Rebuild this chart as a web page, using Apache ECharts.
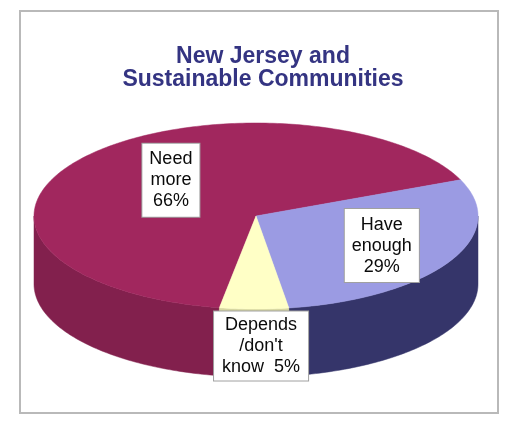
<!DOCTYPE html>
<html>
<head>
<meta charset="utf-8">
<script src="https://cdn.jsdelivr.net/npm/echarts@6/dist/echarts.min.js"></script>
<style>
html,body{margin:0;padding:0;background:#fff;}
#chart{width:514px;height:424px;}
</style>
</head>
<body>
<div id="chart"></div>
<script>
const titleLines = ["New Jersey and", "Sustainable Communities"];
const categories = ["Need more", "Have enough", "Depends /don't know"];
const values = [66, 29, 5];
const labelTexts = ["Need\nmore\n66%", "Have\nenough\n29%", "Depends\n/don't\nknow  5%"];

const topColors = ['#a1275e', '#9b9be3', '#ffffc6'];
const sideColors = ['#82204d', '#35356a', '#d6d6a0'];
const labelR = [0.5, 0.65, 1.0];
const labelDx = [2, 0, 7];
const labelDy = [-7, 0, 37];

const CX = 256, CY = 216, RX = 222, RY = 93, DEPTH = 68, START = 99.5;
const total = values.reduce((a, b) => a + b, 0);

function pt(a, dy) {
  const r = a * Math.PI / 180;
  return [CX + RX * Math.cos(r), CY + RY * Math.sin(r) + (dy || 0)];
}
function arc(a1, a2, dy) {
  const pts = [];
  const step = a2 >= a1 ? 1 : -1;
  for (let a = a1; step > 0 ? a < a2 : a > a2; a += step) pts.push(pt(a, dy));
  pts.push(pt(a2, dy));
  return pts;
}

function renderItem(params, api) {
  const i = params.dataIndex;
  let before = 0;
  for (let k = 0; k < i; k++) before += values[k];
  const start = START + 360 * before / total;
  const end = start + 360 * api.value(0) / total;
  const children = [];
  for (let k = 0; k <= 2; k++) {
    const lo = Math.max(start, 360 * k), hi = Math.min(end, 360 * k + 180);
    if (lo < hi) {
      const pts = arc(lo, hi, 0).concat(arc(hi, lo, DEPTH));
      children.push({
        type: 'polygon', z2: 0,
        shape: { points: pts },
        style: { fill: sideColors[i], stroke: sideColors[i], lineWidth: 0.5 }
      });
    }
  }
  const topPts = [[CX, CY]].concat(arc(start, end, 0));
  children.push({
    type: 'polygon', z2: 1,
    shape: { points: topPts },
    style: { fill: topColors[i], stroke: topColors[i], lineWidth: 0.5 }
  });
  const mid = (start + end) / 2 * Math.PI / 180;
  const lx = CX + labelR[i] * RX * Math.cos(mid) + labelDx[i];
  const ly = CY + labelR[i] * RY * Math.sin(mid) + labelDy[i];
  children.push({
    type: 'text', z2: 10, x: lx, y: ly,
    style: {
      text: labelTexts[i],
      align: 'center', verticalAlign: 'middle',
      fill: '#0a0a0a',
      font: '18px "Liberation Sans", Arial, sans-serif',
      lineHeight: 21,
      backgroundColor: '#ffffff',
      borderColor: '#a0a0a0', borderWidth: 1,
      padding: i === 2 ? [3, 8, 3, 8] : [5, 7, 5, 7]
    }
  });
  return { type: 'group', children: children };
}

const chart = echarts.init(document.getElementById('chart'), null, { renderer: 'canvas' });
chart.setOption({
  backgroundColor: '#ffffff',
  animation: false,
  title: {
    text: titleLines.join('\n'),
    left: 258, top: 40, textAlign: 'center',
    textStyle: {
      fontFamily: '"Liberation Sans", Arial, sans-serif',
      fontSize: 23, fontWeight: 'bold', color: '#343482', lineHeight: 23
    }
  },
  graphic: [{
    type: 'rect', z: -1,
    shape: { x: 20, y: 11, width: 478, height: 402 },
    style: { fill: '#ffffff', stroke: '#b9b9b9', lineWidth: 2 }
  }],
  series: [{
    type: 'custom',
    coordinateSystem: 'none',
    renderItem: renderItem,
    data: values.map((v, i) => ({ name: categories[i], value: v }))
  }]
});
</script>
</body>
</html>
